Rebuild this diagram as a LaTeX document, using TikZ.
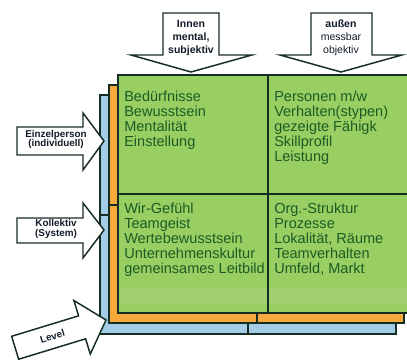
\documentclass[tikz,border=0pt]{standalone}
\usepackage{fontspec}
\setmainfont{Liberation Sans}
\definecolor{gfill}{RGB}{152,206,98}
\definecolor{ofill}{RGB}{246,170,60}
\definecolor{bfill}{RGB}{162,205,228}
\definecolor{edge}{RGB}{22,45,38}
\definecolor{celltxt}{RGB}{28,92,36}
\definecolor{arrtxt}{RGB}{18,28,40}
\tikzset{
  layer/.style={draw=edge, line width=1.1pt},
  arrowshape/.style={draw=edge, fill=white, line width=1.1pt, line join=miter},
  celltext/.style={anchor=north west, inner sep=0pt, align=left, text=celltxt,
    font=\fontsize{10.9}{11.25}\selectfont},
  toptext/.style={inner sep=0pt, align=center, text=arrtxt,
    font=\fontsize{7.9}{9.7}\selectfont},
  sidetext/.style={inner sep=0pt, align=center, text=arrtxt,
    font=\bfseries\fontsize{7.4}{6.9}\selectfont},
}
\begin{document}
\begin{tikzpicture}[x=0.75pt,y=-0.75pt]
\useasboundingbox (0,0) rectangle (407,360);
% blue layer
\fill[white] (0,0) rectangle (407,360);
\draw[layer, fill=bfill] (100,95) rectangle (396,334);
\draw[layer] (248,95) -- (248,334);
\draw[layer] (100,215) -- (396,215);
% orange layer
\draw[layer, fill=ofill] (109,85) rectangle (404,323);
\draw[layer] (257,85) -- (257,323);
\draw[layer] (109,205) -- (404,205);
% green layer
\draw[layer, fill=gfill] (118,75) rectangle (414,313);
\fill[gfill!85!white, opacity=0.5] (119.5,288) rectangle (407,304);
\draw[layer] (268,75) -- (268,313);
\draw[layer] (118,194) -- (414,194);
% cell texts
\node[celltext] (c11) at (124,91) {Bedürfnisse\\Bewusstsein\\Mentalität\\Einstellung};
\node[celltext] (c12) at (274,91) {Personen m/w\\Verhalten(stypen)\\gezeigte Fähigk\\Skillprofil\\Leistung};
\node[celltext] (c21) at (124,203) {Wir-Gefühl\\Teamgeist\\Wertebewusstsein\\Unternehmenskultur\\gemeinsames Leitbild};
\node[celltext] (c22) at (274,203) {Org.-Struktur\\Prozesse\\Lokalität, Räume\\Teamverhalten\\Umfeld, Markt};
% top arrows
\draw[arrowshape] (163,13) -- (219,13) -- (219,55) -- (252,55) -- (191,72) -- (131,55) -- (163,55) -- cycle;
\node[toptext] (innen) at (191,38) {\textbf{Innen}\\\textbf{mental,}\\\textbf{subjektiv}};
\draw[arrowshape] (311,13) -- (372,13) -- (372,55) -- (402,55) -- (341,72) -- (280,55) -- (311,55) -- cycle;
\node[toptext] (aussen) at (341,38) {\textbf{außen}\\messbar\\objektiv};
% left arrows
\draw[arrowshape] (17,127) -- (83,127) -- (83,113) -- (104,141) -- (83,170) -- (83,155) -- (17,155) -- cycle;
\node[sidetext] (einzel) at (56,139.5) {Einzelperson\\(individuell)};
\draw[arrowshape] (17,218) -- (83,218) -- (83,203) -- (104,230) -- (83,258) -- (83,243) -- (17,243) -- cycle;
\node[sidetext] (koll) at (56,229) {Kollektiv\\(System)};
% level arrow
\begin{scope}[shift={(106,320)}, rotate=17]
  \draw[arrowshape] (0,0) -- (-25,-28) -- (-25,-12) -- (-95,-12) -- (-95,12) -- (-25,12) -- (-25,28) -- cycle;
  \node[sidetext, rotate=17] (level) at (-56,0) {Level};
\end{scope}
\end{tikzpicture}
\end{document}
